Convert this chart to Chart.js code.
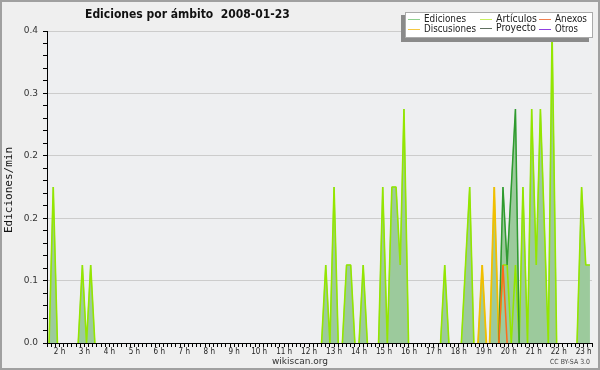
<!DOCTYPE html>
<html>
<head>
<meta charset="utf-8">
<script src="https://cdn.jsdelivr.net/npm/chart.js@4.4.1/dist/chart.umd.min.js"></script>
<style>
  html, body { margin: 0; padding: 0; background: #efefef; }
  #wrap { width: 600px; height: 370px; }
</style>
</head>
<body>
<div id="wrap"><canvas id="chart" width="600" height="370"></canvas></div>
<script>
// time in minutes since 00:00, values in ediciones/min
const edicionesMin = [125, 135, 145, 195, 205, 215, 225, 235, 780, 790, 800, 810, 820, 830, 840, 850, 860, 870, 880, 890,
  917, 927, 938, 949, 959, 969, 978, 989, 1066, 1076, 1086, 1116, 1126, 1136, 1146, 1156, 1166, 1176,
  1184, 1195, 1206, 1216, 1226, 1246, 1255, 1264, 1275, 1285, 1296, 1306, 1325, 1334, 1345, 1394, 1405, 1415, 1425];
const edicionesVal = [0, 0.2, 0, 0, 0.1, 0, 0.1, 0, 0, 0.1, 0, 0.2, 0, 0, 0.1, 0.1, 0, 0, 0.1, 0,
  0, 0.2, 0, 0.2, 0.2, 0.1, 0.3, 0, 0, 0.1, 0, 0, 0.1, 0.2, 0, 0, 0.1, 0,
  0, 0.2, 0, 0.2, 0.1, 0.3, 0, 0.2, 0, 0.3, 0.1, 0.3, 0, 0.4, 0, 0, 0.2, 0.1, 0.1];

const articulosMin = [125, 135, 145, 195, 205, 215, 225, 235, 780, 790, 800, 810, 820, 830, 840, 850, 860, 870, 880, 890,
  917, 927, 938, 949, 959, 969, 978, 989, 1066, 1076, 1086, 1116, 1126, 1136, 1146,
  1206, 1216, 1226, 1236, 1246, 1255, 1264, 1275, 1285, 1296, 1306, 1325, 1334, 1345, 1394, 1405, 1415, 1425];
const articulosVal = [0, 0.2, 0, 0, 0.1, 0, 0.1, 0, 0, 0.1, 0, 0.2, 0, 0, 0.1, 0.1, 0, 0, 0.1, 0,
  0, 0.2, 0, 0.2, 0.2, 0.1, 0.3, 0, 0, 0.1, 0, 0, 0.1, 0.2, 0,
  0, 0.1, 0.1, 0, 0.1, 0, 0.2, 0, 0.3, 0.1, 0.3, 0, 0.4, 0, 0, 0.2, 0.1, 0.1];

const proyectoMin = [1206, 1216, 1226, 1246, 1255];
const proyectoVal = [0, 0.2, 0.1, 0.3, 0];

const discusionesMin = [1156, 1166, 1176, 1184, 1195, 1206];
const discusionesVal = [0, 0.1, 0, 0, 0.2, 0];

const anexosMin = [1206, 1216, 1226];
const anexosVal = [0, 0.1, 0];

const otrosMin = [];
const otrosVal = [];

const hourLabels = ['2 h', '3 h', '4 h', '5 h', '6 h', '7 h', '8 h', '9 h', '10 h', '11 h', '12 h',
  '13 h', '14 h', '15 h', '16 h', '17 h', '18 h', '19 h', '20 h', '21 h', '22 h', '23 h'];

const toPoints = (mins, vals) => mins.map((m, i) => ({ x: m, y: vals[i] }));
// don't draw the flat parts lying on the axis
const hideFlat = ctx => (ctx.p0.parsed.y === 0 && ctx.p1.parsed.y === 0) ? 'rgba(0,0,0,0)' : undefined;

const lineDefaults = { pointRadius: 0, tension: 0, fill: false, borderJoinStyle: 'bevel', segment: { borderColor: hideFlat }, clip: 0 };

const decor = {
  id: 'decor',
  beforeDraw(chart) {
    const { ctx, chartArea: a } = chart;
    ctx.save();
    ctx.fillStyle = '#efefef';
    ctx.fillRect(0, 0, chart.width, chart.height);
    ctx.fillStyle = '#eeeff1';
    ctx.fillRect(a.left, a.top, a.right - a.left, a.bottom - a.top);
    ctx.restore();
  },
  afterDraw(chart) {
    const ctx = chart.ctx;
    ctx.save();
    ctx.textBaseline = 'alphabetic';

    // title
    ctx.fillStyle = '#111';
    ctx.font = 'bold 12px "DejaVu Sans Condensed", "DejaVu Sans"';
    ctx.textAlign = 'left';
    ctx.fillText('Ediciones por ámbito  2008-01-23', 85, 18, 206);

    // y title
    ctx.save();
    ctx.translate(12, 190);
    ctx.rotate(-Math.PI / 2);
    ctx.textAlign = 'center';
    ctx.font = '11px "DejaVu Sans Mono"';
    ctx.fillStyle = '#111';
    ctx.fillText('Ediciones/min', 0, 0, 86);
    ctx.restore();

    // footer
    ctx.textAlign = 'center';
    ctx.font = '9px "DejaVu Sans"';
    ctx.fillStyle = '#333';
    ctx.fillText('wikiscan.org', 300, 364);
    ctx.textAlign = 'right';
    ctx.font = '7px "DejaVu Sans"';
    ctx.fillStyle = '#444';
    ctx.fillText('CC BY-SA 3.0', 590, 364, 40);

    // legend
    ctx.fillStyle = '#8a8a8a';
    ctx.fillRect(401, 15, 188, 27);
    ctx.fillStyle = '#fff';
    ctx.fillRect(405, 12, 188, 26);
    ctx.strokeStyle = '#aaa';
    ctx.lineWidth = 1;
    ctx.strokeRect(405.5, 12.5, 187, 25);
    const items = [
      ['Ediciones', '#8fd08f', 408, 19, 42], ['Discusiones', '#f5c842', 408, 29, 52],
      ['Artículos', '#c8f060', 480, 19, 41], ['Proyecto', '#607060', 480, 28, 40],
      ['Anexos', '#f08050', 539, 19, 32], ['Otros', '#9040e0', 539, 29, 23]
    ];
    ctx.font = '10.5px "DejaVu Sans Condensed", "DejaVu Sans"';
    ctx.textAlign = 'left';
    ctx.textBaseline = 'middle';
    items.forEach(([name, color, x, y, w]) => {
      ctx.strokeStyle = color;
      ctx.beginPath();
      ctx.moveTo(x, y + 0.5);
      ctx.lineTo(x + 12, y + 0.5);
      ctx.stroke();
      ctx.fillStyle = '#222';
      ctx.fillText(name, x + 16, y + 0.5, w);
    });

    // frame
    ctx.strokeStyle = '#a0a0a0';
    ctx.lineWidth = 2;
    ctx.strokeRect(1, 1, 598, 368);
    ctx.restore();
  }
};

new Chart(document.getElementById('chart'), {
  type: 'line',
  data: {
    datasets: [
      { ...lineDefaults, label: 'Ediciones', data: toPoints(edicionesMin, edicionesVal), borderColor: '#8fd08f', borderWidth: 1, backgroundColor: '#9cca9c', fill: 'origin', order: 6 },
      { ...lineDefaults, label: 'Artículos', data: toPoints(articulosMin, articulosVal), borderColor: '#94e600', borderWidth: 1.6, order: 5 },
      { ...lineDefaults, label: 'Anexos', data: toPoints(anexosMin, anexosVal), borderColor: '#ff6a1a', borderWidth: 1.5, order: 1 },
      { ...lineDefaults, label: 'Discusiones', data: toPoints(discusionesMin, discusionesVal), borderColor: '#f2bf00', borderWidth: 1.8, order: 3 },
      { ...lineDefaults, label: 'Proyecto', data: toPoints(proyectoMin, proyectoVal), borderColor: '#2f9a2f', borderWidth: 1.5, order: 2 },
      { ...lineDefaults, label: 'Otros', data: toPoints(otrosMin, otrosVal), borderColor: '#9040e0', borderWidth: 1.5, order: 7 }
    ]
  },
  options: {
    responsive: false,
    animation: false,
    devicePixelRatio: 1,
    layout: { padding: { left: 0, top: 31, right: 8, bottom: 0 } },
    plugins: { legend: { display: false }, title: { display: false }, tooltip: { enabled: false } },
    scales: {
      x: {
        type: 'linear',
        min: 120,
        max: 1430,
        z: 1,
        afterFit: s => { s.height = 27; },
        afterBuildTicks: s => {
          const t = [];
          for (let m = 120; m <= 1430; m += 10) t.push({ value: m });
          s.ticks = t;
        },
        grid: { drawOnChartArea: false, tickLength: 4, tickColor: '#000' },
        border: { color: '#000' },
        ticks: {
          autoSkip: false,
          maxRotation: 0,
          padding: 0,
          color: '#222',
          font: { family: '"DejaVu Sans Condensed", "DejaVu Sans"', size: 8 },
          callback: v => ((v - 150) % 60 === 0 ? hourLabels[(v - 150) / 60] : '')
        }
      },
      y: {
        min: 0,
        max: 0.4,
        afterFit: s => { s.width = 47; },
        afterBuildTicks: s => {
          const t = [];
          for (let k = 0; k <= 25; k++) t.push({ value: +(k * 0.016).toFixed(3) });
          s.ticks = t;
        },
        grid: {
          color: c => (c.index % 5 === 0 ? '#cccccc' : 'rgba(0,0,0,0)'),
          tickColor: '#000',
          tickLength: 4
        },
        border: { color: '#000' },
        ticks: {
          autoSkip: false,
          padding: 5,
          color: '#333',
          font: { family: '"DejaVu Sans"', size: 9 },
          callback: (v, i) => (i % 5 === 0 ? v.toFixed(1) : '')
        }
      }
    }
  },
  plugins: [decor]
});
</script>
</body>
</html>
